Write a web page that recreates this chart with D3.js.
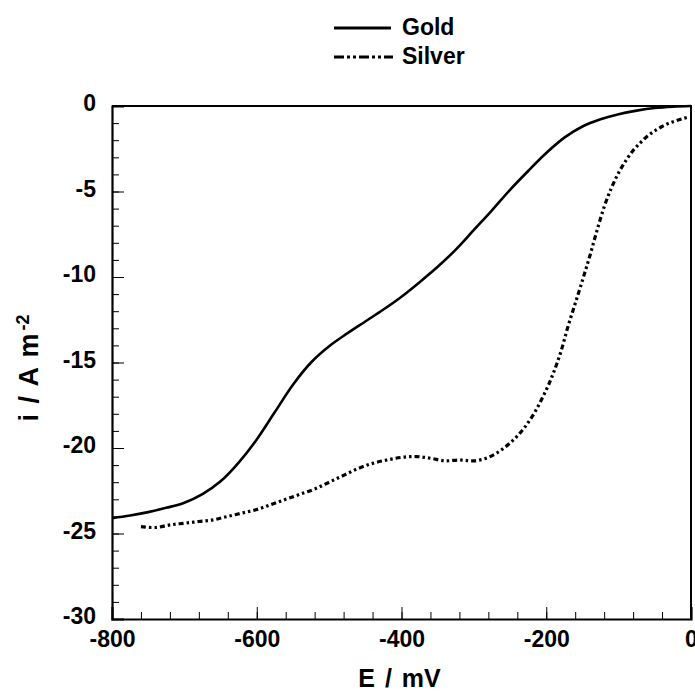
<!DOCTYPE html>
<html lang="en">
<head>
<meta charset="UTF-8">
<title>Gold vs Silver</title>
<style>
  body { margin: 0; background: #fff; }
  text { font-family: "Liberation Sans", Arial, sans-serif; font-weight: bold; fill: #000; }
  .axis path, .axis line { stroke: #000; }
</style>
</head>
<body>
<svg height="692" width="695"></svg>
<script src="https://d3js.org/d3.v7.min.js"></script>
<script>

  // potential (mV) and current density (A m-2)
  var goldE = [-800,-775,-750,-725,-700,-675,-650,-625,-600,-575,-550,-525,-500,-475,-450,-425,-400,
               -375,-350,-325,-300,-275,-250,-225,-200,-175,-150,-125,-100,-75,-50,-25,0];
  var goldI = [-24.1,-23.95,-23.75,-23.5,-23.2,-22.7,-21.95,-20.85,-19.5,-17.9,-16.3,-15.0,-14.05,-13.3,-12.6,-11.9,-11.15,
               -10.3,-9.4,-8.4,-7.25,-6.1,-4.9,-3.8,-2.75,-1.85,-1.2,-0.78,-0.48,-0.27,-0.12,-0.04,0];

  var silverE = [-760,-740,-720,-700,-680,-660,-640,-620,-600,-580,-560,-540,-520,-500,-480,-460,-440,-420,-400,
                 -380,-360,-340,-320,-300,-280,-260,-240,-220,-200,-190,-180,-170,-160,-150,-140,-130,-120,-110,
                 -100,-90,-80,-70,-60,-50,-40,-30,-20,-10,-2];
  var silverI = [-24.6,-24.65,-24.5,-24.4,-24.3,-24.2,-24.0,-23.8,-23.6,-23.3,-23.0,-22.7,-22.4,-22.0,-21.6,-21.2,-20.9,-20.7,-20.55,
                 -20.5,-20.6,-20.75,-20.7,-20.75,-20.55,-20.05,-19.3,-18.2,-16.6,-15.6,-14.4,-12.9,-11.55,-10.2,-8.8,-7.3,-5.9,-4.8,
                 -3.9,-3.2,-2.6,-2.15,-1.75,-1.45,-1.2,-1.0,-0.85,-0.72,-0.63];

  var xTicks = [-800, -600, -400, -200, 0];
  var yTicks = [0, -5, -10, -15, -20, -25, -30];
  var seriesNames = ["Gold", "Silver"];

  var margin = {top: 106, right: 4, bottom: 73, left: 112};
  var svg = d3.select("svg");
  var width = +svg.attr("width") - margin.left - margin.right;
  var height = +svg.attr("height") - margin.top - margin.bottom;

  var g = svg.append("g").attr("transform", "translate(" + margin.left + "," + margin.top + ")");

  var x = d3.scaleLinear().domain([-800, 0]).range([0, width]);
  var y = d3.scaleLinear().domain([-30, 0]).range([height, 0]);

  var plain = function(d) { return String(d); };

  // minor ticks
  g.append("g").attr("class", "axis")
      .attr("transform", "translate(0," + height + ")")
      .call(d3.axisBottom(x).tickValues(d3.range(-800, 1, 40)).tickSize(-7).tickFormat(""))
      .call(function(s) { s.select(".domain").remove(); });
  g.append("g").attr("class", "axis")
      .call(d3.axisLeft(y).tickValues(d3.range(-30, 0.5, 1)).tickSize(-7).tickFormat(""))
      .call(function(s) { s.select(".domain").remove(); });

  // major ticks + labels
  var xAxis = g.append("g").attr("class", "axis")
      .attr("transform", "translate(0," + height + ")")
      .call(d3.axisBottom(x).tickValues(xTicks).tickSize(-12).tickFormat(plain));
  xAxis.selectAll("text").style("font-size", "23px").attr("y", 28).attr("dy", 0);

  var yAxis = g.append("g").attr("class", "axis")
      .call(d3.axisLeft(y).tickValues(yTicks).tickSize(-12).tickFormat(plain));
  yAxis.selectAll("text").style("font-size", "23px").attr("x", -16).attr("dy", "0.2em");

  svg.selectAll(".axis .domain").attr("stroke-width", 2.2);

  // top and right frame
  g.append("path")
      .attr("d", "M0,0H" + width + "V" + height)
      .attr("fill", "none").attr("stroke", "#000").attr("stroke-width", 2);

  var line = d3.line()
      .x(function(d) { return x(d[0]); })
      .y(function(d) { return y(d[1]); })
      .curve(d3.curveCatmullRom);

  g.append("path")
      .datum(d3.zip(goldE, goldI))
      .attr("d", line)
      .attr("fill", "none").attr("stroke", "#000").attr("stroke-width", 2.6);

  g.append("path")
      .datum(d3.zip(silverE, silverI))
      .attr("d", line)
      .attr("fill", "none").attr("stroke", "#000").attr("stroke-width", 3.2)
      .attr("stroke-dasharray", "5,3,2.5,3,2.5,3");

  // axis titles
  svg.append("text")
      .attr("x", margin.left + width / 2 - 2).attr("y", 687)
      .attr("text-anchor", "middle").style("font-size", "25px").style("word-spacing", "3px")
      .text("E / mV");

  var yt = svg.append("text")
      .attr("transform", "translate(38,368) rotate(-90)")
      .attr("text-anchor", "middle").style("font-size", "27px").style("word-spacing", "3px");
  yt.append("tspan").text("i / A m");
  yt.append("tspan").attr("dy", "-0.5em").attr("dx", 3).style("font-size", "18px").text("-2");

  // legend
  var legend = svg.append("g").attr("transform", "translate(334,28)");
  legend.selectAll("line")
      .data(seriesNames).enter().append("line")
      .attr("x1", 0).attr("x2", function(d, i) { return i ? 59 : 57; })
      .attr("y1", function(d, i) { return i * 29; })
      .attr("y2", function(d, i) { return i * 29; })
      .attr("stroke", "#000").attr("stroke-width", 2.8)
      .attr("stroke-dasharray", function(d, i) { return i ? "10,3,3,3,3,3" : null; });
  legend.selectAll("text")
      .data(seriesNames).enter().append("text")
      .attr("x", 68)
      .attr("y", function(d, i) { return i * 29 + 7; })
      .style("font-size", "23px")
      .text(function(d) { return d; });

</script>
</body>
</html>
